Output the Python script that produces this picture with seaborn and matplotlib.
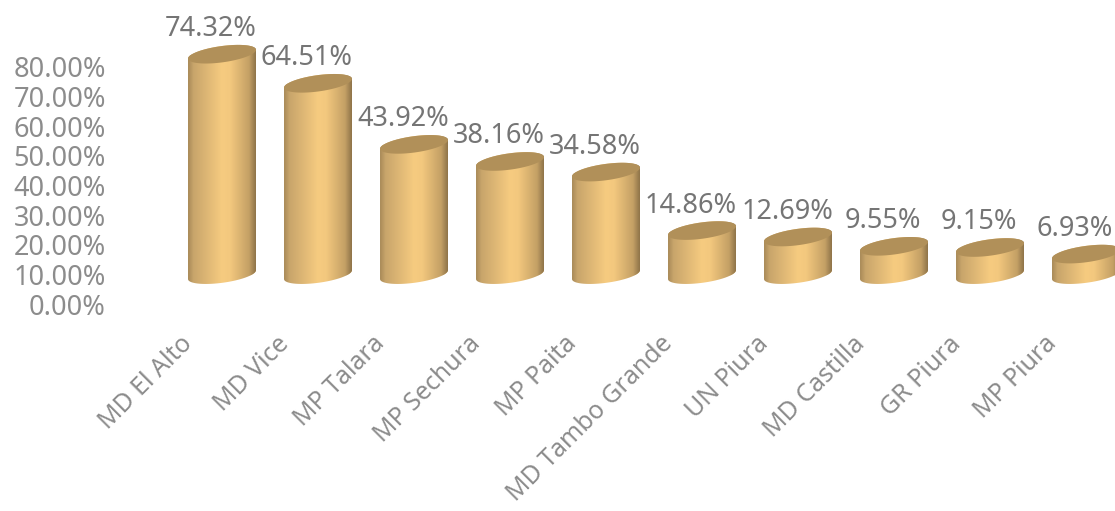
import numpy as np
import pandas as pd
import matplotlib
matplotlib.use("Agg")
import matplotlib.pyplot as plt
from matplotlib.colors import LinearSegmentedColormap
from matplotlib.path import Path
from matplotlib.patches import PathPatch
from matplotlib.transforms import ScaledTranslation
import seaborn as sns

entities = ["MD El Alto", "MD Vice", "MP Talara", "MP Sechura", "MP Paita",
            "MD Tambo Grande", "UN Piura", "MD Castilla", "GR Piura", "MP Piura"]
percentages = [74.32, 64.51, 43.92, 38.16, 34.58, 14.86, 12.69, 9.55, 9.15, 6.93]
y_ticks = [0, 10, 20, 30, 40, 50, 60, 70, 80]

sns.set_theme(style="white")
plt.rcParams["font.family"] = ["Noto Sans", "DejaVu Sans"]

W, H = 1115, 511
fig = plt.figure(figsize=(W / 100, H / 100), dpi=100, facecolor="white")
ax = fig.add_axes([106 / W, (H - 304) / H, (W - 106) / W, 304 / H])

df = pd.DataFrame({"entity": entities, "pct": percentages})
sns.barplot(data=df, x="entity", y="pct", color="#D9B06C", width=0.708,
            saturation=1, ax=ax, zorder=2)

ax.set_xlim((106 - 222) / 96, (W - 222) / 96)
PX_Y = 2.966
ax.set_ylim(0, 304 / PX_Y)
ax.autoscale(False)

# 3D-look: the cylinders stand on a floor raised above the axis zero
FLOOR = 9.9
A_PX, B_PX, SHEAR = 34.0, 8.2, 0.13
cmap = LinearSegmentedColormap.from_list(
    "cyl", [(0, "#A88A58"), (0.08, "#C8A56B"), (0.5, "#F6CB80"), (0.62, "#F3C87E"),
            (0.9, "#C4A065"), (1, "#8E7349")])
gradient = np.linspace(0, 1, 256).reshape(1, -1)
t = np.linspace(0, np.pi, 60)


def arc(xc, yc, a, tt, sign):
    xs = xc + a * np.cos(tt)
    ys = yc + (sign * B_PX * np.sin(tt) + SHEAR * A_PX * np.cos(tt)) / PX_Y
    return np.column_stack([xs, ys])


for bar, value in zip(ax.patches, percentages):
    bar.set_y(FLOOR)
    xc = bar.get_x() + bar.get_width() / 2
    a = bar.get_width() / 2
    top = FLOOR + bar.get_height()
    lower = arc(xc, FLOOR, a, t[::-1], -1)       # front edge, left to right
    upper = arc(xc, top, a, t, 1)                # back edge, right to left
    body = Path(np.vstack([lower, upper, lower[:1]]), closed=False)
    clip = PathPatch(body, transform=ax.transData, fc="none", ec="none")
    ax.add_patch(clip)
    bar.set_clip_path(clip)
    im = ax.imshow(gradient, extent=(xc - a, xc + a, FLOOR - 5, top + 5), cmap=cmap,
                   vmin=0, vmax=1, aspect="auto", zorder=3, interpolation="bilinear")
    im.set_clip_path(clip)
    cap = np.vstack([arc(xc, top, a, t, 1), arc(xc, top, a, t, -1)[::-1]])
    ax.add_patch(PathPatch(Path(cap), fc="#B19059", ec="none", zorder=4))
    ax.annotate(f"{value:.2f}%", xy=(xc, top), xytext=(-11, 25),
                textcoords="offset pixels", ha="center", va="center",
                fontsize=19.5, color="#757575", zorder=5, annotation_clip=False)

ax.set_yticks(y_ticks)
ax.set_yticklabels([f"{v:.2f}%" for v in y_ticks], fontsize=19.5, color="#8C8C8C")
ax.set_xlabel("")
ax.set_ylabel("")
ax.tick_params(axis="y", length=0, pad=0)
ax.tick_params(axis="x", length=0, pad=26)
shift = ScaledTranslation(-33 / 100, 0, fig.dpi_scale_trans)
for label in ax.get_xticklabels():
    label.set_rotation(45)
    label.set_rotation_mode("anchor")
    label.set_ha("right")
    label.set_va("center")
    label.set_fontsize(18)
    label.set_color("#8C8C8C")
    label.set_transform(label.get_transform() + shift)
sns.despine(ax=ax, left=True, bottom=True)
ax.patch.set_alpha(0)

fig.savefig("out.png", dpi=100)
